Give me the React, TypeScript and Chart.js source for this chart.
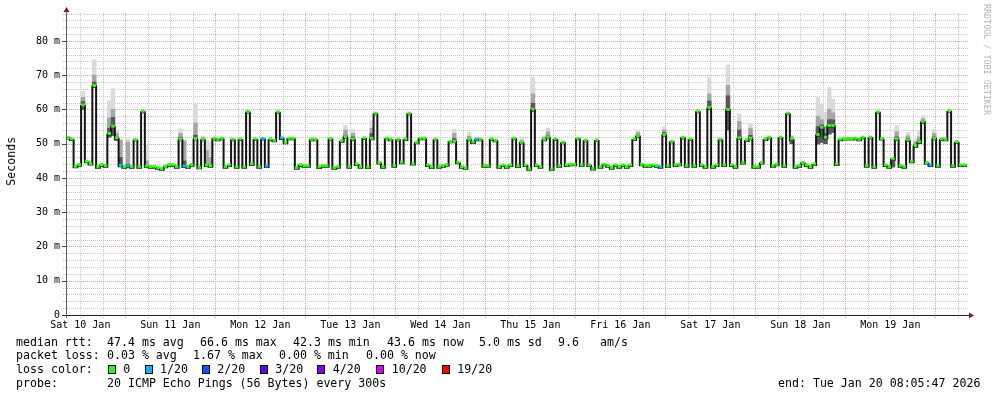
import React, { useEffect, useRef } from "react";
import Chart from "chart.js/auto";

// ---- axis ranges (hours since Sat 10 Jan 00:00) ----
const X_MIN = 8.45;
const X_MAX = 248.45;
const FIRST_BUCKET_HOUR = 8.21;
const Y_MIN = 0;
const Y_MAX = 88.15;

const dayLabels = ["Sat 10 Jan", "Sun 11 Jan", "Mon 12 Jan", "Tue 13 Jan", "Wed 14 Jan", "Thu 15 Jan", "Fri 16 Jan", "Sat 17 Jan", "Sun 18 Jan", "Mon 19 Jan"];
const dayLabelHours = [12, 36, 60, 84, 108, 132, 156, 180, 204, 228];
const yTickValues = [0, 10, 20, 30, 40, 50, 60, 70, 80];
const Y_MINOR_STEP = 2;
const Y_MAJOR_STEP = 10;
const X_MINOR_STEP_H = 6;
const X_MAJOR_STEP_H = 24;

// ---- hourly median RTT (ms) ----
const medianRtt = [
  51.5, 51.1, 43.1, 43.6, 61.0, 44.6, 43.9, 66.7, 43.0, 43.6,
  43.3, 52.7, 54.8, 51.4, 43.4, 43.0, 43.2, 43.0, 50.9, 43.0,
  59.2, 43.2, 43.0, 43.0, 42.7, 42.4, 43.1, 43.6, 43.6, 43.0,
  51.0, 43.2, 43.0, 43.6, 51.2, 42.8, 51.0, 43.5, 43.3, 51.3,
  51.0, 51.3, 43.0, 43.5, 51.0, 43.0, 51.1, 43.0, 59.1, 43.8,
  51.1, 43.0, 51.2, 43.2, 51.1, 50.7, 59.0, 51.4, 50.1, 51.3,
  51.3, 42.7, 43.6, 43.3, 43.3, 51.0, 51.0, 42.9, 43.3, 43.3,
  51.2, 42.7, 43.0, 50.6, 51.8, 43.0, 51.1, 43.8, 43.0, 51.4,
  42.9, 51.3, 58.6, 44.2, 43.0, 51.3, 51.0, 43.3, 51.0, 44.3,
  51.1, 58.6, 43.9, 50.1, 51.3, 51.3, 43.5, 42.9, 51.0, 43.0,
  43.3, 43.6, 50.4, 50.4, 44.3, 43.0, 42.7, 51.0, 50.2, 51.0,
  51.0, 43.3, 43.3, 51.1, 50.7, 43.0, 43.5, 43.0, 43.5, 51.3,
  43.2, 50.1, 43.5, 42.4, 59.8, 43.5, 43.0, 51.0, 51.6, 42.4,
  51.1, 43.3, 50.1, 43.5, 43.7, 43.7, 51.3, 43.5, 50.7, 43.5,
  42.5, 50.8, 43.0, 43.7, 43.3, 42.7, 43.5, 43.0, 43.5, 43.0,
  43.5, 51.1, 52.0, 43.7, 43.3, 43.3, 43.5, 43.3, 43.0, 52.4,
  43.2, 50.4, 43.5, 43.7, 51.6, 43.3, 51.1, 43.3, 59.2, 43.5,
  43.0, 60.3, 43.0, 43.5, 51.0, 43.5, 59.7, 43.5, 43.0, 51.4,
  44.2, 50.8, 51.3, 43.0, 43.0, 44.2, 51.1, 51.6, 43.3, 43.7,
  51.6, 43.3, 58.6, 51.1, 43.0, 43.3, 44.2, 43.5, 43.0, 43.8,
  52.4, 54.5, 51.6, 55.0, 55.0, 43.8, 51.0, 51.2, 51.2, 51.2,
  51.3, 51.0, 51.6, 43.3, 51.6, 43.0, 59.0, 51.2, 43.5, 43.0,
  45.3, 51.1, 43.3, 43.0, 50.8, 44.6, 49.2, 50.3, 56.2, 44.2,
  43.5, 51.3, 43.3, 51.1, 51.0, 59.3, 43.3, 50.3, 43.5, 43.5,
  43.6,
];

// ---- packet loss (count out of 20) per hour, sparse ----
const lossIndex = [14, 16, 31, 52, 53, 57, 109, 158, 230];
const lossCount = [1, 1, 1, 1, 1, 1, 1, 1, 1];

// ---- smoke (ping spread) per hour, sparse ----
const smokeIndex = [4, 7, 11, 12, 13, 14, 16, 21, 30, 31, 34, 36, 37, 38, 74, 76, 81, 103, 107, 109, 121, 124, 127, 128, 152, 159, 171, 176, 179, 182, 193, 200, 201, 202, 203, 204, 220, 221, 224, 226, 227, 228, 231];
const smokeBottom = [60.0, 66.5, 51.9, 52.4, 50.9, 43.3, 43.2, 43.0, 51.0, 43.2, 51.2, 51.0, 43.5, 43.3, 51.8, 51.1, 51.3, 50.4, 51.0, 51.0, 50.1, 59.5, 51.0, 51.6, 52.0, 52.4, 60.0, 54.0, 51.4, 51.3, 50.0, 49.9, 50.4, 50.0, 52.8, 53.3, 43.2, 51.1, 50.8, 49.0, 50.0, 56.0, 51.3];
const smokeCore = [62.3, 68.0, 54.5, 57.7, 52.0, 46.0, 44.0, 43.5, 51.8, 45.0, 52.5, 51.3, 44.0, 43.8, 52.5, 52.0, 53.0, 51.5, 51.3, 51.2, 50.4, 61.8, 51.3, 52.3, 52.5, 53.3, 62.5, 64.0, 54.0, 52.5, 51.3, 55.0, 55.5, 53.0, 57.0, 57.0, 45.3, 52.0, 51.5, 49.8, 51.0, 56.7, 52.0];
const smokeMid = [63.5, 70.0, 57.5, 60.0, 53.0, 51.0, 50.5, 45.0, 53.0, 50.8, 56.0, 51.8, 48.0, 46.0, 54.0, 53.0, 54.5, 53.0, 52.2, 51.6, 51.0, 64.5, 51.8, 53.5, 53.3, 54.0, 64.5, 67.0, 56.5, 54.5, 52.0, 58.0, 57.0, 55.0, 60.0, 59.0, 45.3, 53.5, 52.3, 50.5, 52.0, 57.3, 53.0];
const smokeTop = [65.3, 74.5, 62.5, 66.1, 54.0, 51.4, 51.4, 49.5, 54.3, 51.1, 61.6, 52.3, 50.9, 50.5, 55.3, 54.1, 56.7, 54.3, 53.3, 52.0, 51.9, 69.3, 52.3, 54.6, 54.0, 55.0, 69.3, 73.0, 58.7, 55.9, 52.4, 63.5, 61.6, 59.2, 66.4, 63.0, 45.3, 55.3, 53.3, 51.4, 53.8, 58.2, 54.0];

// ---- loss colour legend ----
const lossLegendLabels = ["0", "1/20", "2/20", "3/20", "4/20", "10/20", "19/20"];
const lossLegendThresholds = [0, 1, 2, 3, 4, 10, 19];
const lossLegendColors = ["#26ff00", "#00b8ff", "#0059ff", "#5e00ff", "#7e00ff", "#dd00ff", "#ff0000"];

const MONO = '"DejaVu Sans Mono", monospace';
const MINOR_GRID = "#c8c8c8";
const MAJOR_GRID = "#e4a0a0";
const ARROW = "#8b1a1a";

function lossColorFor(count: number): string {
  let c = lossLegendColors[0];
  for (let j = 0; j < lossLegendThresholds.length; j++) {
    if (count >= lossLegendThresholds[j]) c = lossLegendColors[j];
  }
  return c;
}

const gridPlugin = {
  id: "rrdGrid",
  beforeDatasetsDraw(chart: any) {
    const { ctx, chartArea: a } = chart;
    const x = chart.scales.x;
    const y = chart.scales.y;
    ctx.save();
    ctx.lineWidth = 1;
    ctx.setLineDash([1, 1]);
    const drawH = (major: boolean) => {
      for (let v = Y_MINOR_STEP; v <= Y_MAX; v += Y_MINOR_STEP) {
        const isMajor = v % Y_MAJOR_STEP === 0;
        if (isMajor !== major) continue;
        const py = Math.round(y.getPixelForValue(v)) + 0.5;
        ctx.strokeStyle = major ? MAJOR_GRID : MINOR_GRID;
        ctx.beginPath();
        ctx.moveTo(a.left - 4, py);
        ctx.lineTo(a.right + 2, py);
        ctx.stroke();
      }
    };
    const drawV = (major: boolean) => {
      const start = Math.ceil(X_MIN / X_MINOR_STEP_H) * X_MINOR_STEP_H;
      for (let h = start; h <= X_MAX; h += X_MINOR_STEP_H) {
        const isMajor = h % X_MAJOR_STEP_H === 0;
        if (isMajor !== major) continue;
        const px = Math.round(x.getPixelForValue(h)) + 0.5;
        ctx.strokeStyle = major ? MAJOR_GRID : MINOR_GRID;
        ctx.beginPath();
        ctx.moveTo(px, a.top);
        ctx.lineTo(px, a.bottom + 3);
        ctx.stroke();
      }
    };
    drawH(false);
    drawV(false);
    drawH(true);
    drawV(true);
    ctx.restore();
  },
};

const GREEN_DATASET_INDEX = 4;
const offsetPlugin = {
  id: "greenOffset",
  beforeDatasetDraw(chart: any, args: any) {
    if (args.index === GREEN_DATASET_INDEX) {
      chart.ctx.save();
      chart.ctx.translate(0, -1);
    }
  },
  afterDatasetDraw(chart: any, args: any) {
    if (args.index === GREEN_DATASET_INDEX) chart.ctx.restore();
  },
};

const axisPlugin = {
  id: "rrdAxes",
  afterDatasetsDraw(chart: any) {
    const { ctx, chartArea: a } = chart;
    const y = chart.scales.y;
    ctx.save();
    ctx.setLineDash([]);
    ctx.lineWidth = 1;
    ctx.strokeStyle = "#404040";
    for (const v of yTickValues) {
      const py = Math.round(y.getPixelForValue(v)) + 0.5;
      ctx.beginPath();
      ctx.moveTo(a.left - 5, py);
      ctx.lineTo(a.left, py);
      ctx.stroke();
    }
    const by = Math.round(a.bottom) + 0.5;
    ctx.strokeStyle = "#202020";
    ctx.beginPath();
    ctx.moveTo(a.left - 4, by);
    ctx.lineTo(a.right + 3, by);
    ctx.stroke();
    const lx = Math.round(a.left) - 0.5;
    ctx.strokeStyle = "#606060";
    ctx.beginPath();
    ctx.moveTo(lx, a.bottom + 3);
    ctx.lineTo(lx, a.top - 2);
    ctx.stroke();
    ctx.fillStyle = ARROW;
    ctx.beginPath();
    ctx.moveTo(a.right + 2, by - 3);
    ctx.lineTo(a.right + 7, by);
    ctx.lineTo(a.right + 2, by + 3);
    ctx.closePath();
    ctx.fill();
    ctx.beginPath();
    ctx.moveTo(lx - 3, a.top - 1);
    ctx.lineTo(lx, a.top - 6);
    ctx.lineTo(lx + 3, a.top - 1);
    ctx.closePath();
    ctx.fill();
    ctx.restore();
  },
};

function smokeData(upper: number[]) {
  return smokeIndex.map((i, n) => ({ x: FIRST_BUCKET_HOUR + i + 0.5, y: [smokeBottom[n], upper[n]] }));
}

export default function App() {
  const ref = useRef<HTMLCanvasElement>(null);

  useEffect(() => {
    const canvas = ref.current;
    if (!canvas) return;
    const lossByIndex: Record<number, number> = {};
    lossIndex.forEach((i, n) => (lossByIndex[i] = lossCount[n]));

    const lineData = medianRtt.map((v, i) => ({ x: FIRST_BUCKET_HOUR + i, y: v }));
    lineData.push({ x: FIRST_BUCKET_HOUR + medianRtt.length, y: medianRtt[medianRtt.length - 1] });
    const greenData = medianRtt.map((v, i) => ({ x: FIRST_BUCKET_HOUR + i + 0.5, y: v }));
    const greenColors = medianRtt.map((_, i) => lossColorFor(lossByIndex[i] || 0));

    const barCommon = {
      type: "bar" as const,
      grouped: false,
      barPercentage: 1,
      categoryPercentage: 1,
      borderWidth: 0,
      borderSkipped: false,
    };

    const chart = new Chart(canvas, {
      type: "line",
      data: {
        datasets: [
          { ...barCommon, label: "smoke outer", data: smokeData(smokeTop), backgroundColor: "#dadada", order: 5 } as any,
          { ...barCommon, label: "smoke mid", data: smokeData(smokeMid), backgroundColor: "#a6a6a6", order: 4 } as any,
          { ...barCommon, label: "smoke core", data: smokeData(smokeCore), backgroundColor: "#585858", order: 3 } as any,
          {
            type: "line",
            label: "median",
            data: lineData,
            stepped: "before",
            borderColor: "#141414",
            borderWidth: 2,
            pointRadius: 0,
            fill: false,
            order: 2,
          } as any,
          {
            type: "line",
            label: "loss",
            data: greenData,
            showLine: false,
            pointStyle: "line",
            pointRadius: 1.7,
            pointHoverRadius: 1.7,
            pointBorderWidth: 3,
            pointBorderColor: greenColors,
            pointBackgroundColor: greenColors,
            order: 1,
          } as any,
        ],
      },
      options: {
        responsive: false,
        maintainAspectRatio: false,
        animation: false,
        devicePixelRatio: 1,
        events: [],
        layout: { padding: { left: 0, right: 30, top: 12, bottom: 0 } },
        plugins: { legend: { display: false }, tooltip: { enabled: false }, title: { display: false } },
        scales: {
          x: {
            type: "linear",
            min: X_MIN,
            max: X_MAX,
            offset: false,
            grid: { display: false, drawTicks: false },
            border: { display: false },
            afterFit(s: any) {
              s.height = 82;
            },
            afterBuildTicks(s: any) {
              s.ticks = dayLabelHours.map((v) => ({ value: v }));
            },
            ticks: {
              autoSkip: false,
              maxRotation: 0,
              minRotation: 0,
              padding: 4,
              color: "#000",
              font: { family: MONO, size: 10 },
              callback: (_v: any, idx: number) => dayLabels[idx],
            },
          },
          y: {
            type: "linear",
            min: Y_MIN,
            max: Y_MAX,
            grid: { display: false, drawTicks: false },
            border: { display: false },
            afterFit(s: any) {
              s.width = 67;
            },
            afterBuildTicks(s: any) {
              s.ticks = yTickValues.map((v) => ({ value: v }));
            },
            ticks: {
              padding: 7,
              color: "#000",
              font: { family: MONO, size: 10 },
              callback: (v: any) => (Number(v) === 0 ? "0" : `${v} m`),
            },
          },
        },
      } as any,
      plugins: [gridPlugin, offsetPlugin, axisPlugin],
    });
    return () => chart.destroy();
  }, []);

  const txt = (left: number, top: number, content: string, extra: any = {}) => (
    <span
      style={{
        position: "absolute",
        left,
        top,
        font: `11.6px ${MONO}`,
        lineHeight: "14px",
        whiteSpace: "pre",
        color: "#000",
        ...extra,
      }}
    >
      {content}
    </span>
  );

  const swatchX = [107.5, 145, 202, 259.5, 316.5, 376, 442];
  const swatchLabelX = [123.3, 160, 217.3, 275.3, 332.7, 391.7, 457.3];

  return (
    <div style={{ position: "absolute", left: 0, top: 0, width: 997, height: 397, background: "#fff", overflow: "hidden" }}>
      <canvas ref={ref} width={997} height={397} style={{ position: "absolute", left: 0, top: 0, width: 997, height: 397 }} />
      <div
        style={{
          position: "absolute",
          left: 4,
          top: 137,
          writingMode: "vertical-rl",
          transform: "rotate(180deg)",
          font: `11.6px ${MONO}`,
          lineHeight: "14px",
          color: "#000",
        }}
      >
        Seconds
      </div>
      <div
        style={{
          position: "absolute",
          left: 982,
          top: 4,
          writingMode: "vertical-rl",
          font: `8.4px ${MONO}`,
          lineHeight: "10px",
          color: "#b4b4b4",
          whiteSpace: "pre",
        }}
      >
        RRDTOOL / TOBI OETIKER
      </div>

      {txt(16, 335, "median rtt:")}
      {txt(107, 335, "47.4 ms avg")}
      {txt(200, 335, "66.6 ms max")}
      {txt(293, 335, "42.3 ms min")}
      {txt(387, 335, "43.6 ms now")}
      {txt(479, 335, "5.0 ms sd")}
      {txt(558, 335, "9.6")}
      {txt(600, 335, "am/s")}

      {txt(16, 348, "packet loss:")}
      {txt(107, 348, "0.03 % avg")}
      {txt(193, 348, "1.67 % max")}
      {txt(279, 348, "0.00 % min")}
      {txt(366, 348, "0.00 % now")}

      {txt(16, 362, "loss color:")}
      {lossLegendLabels.map((lab, j) => (
        <React.Fragment key={lab}>
          <span
            style={{
              position: "absolute",
              left: swatchX[j],
              top: 364.5,
              width: 8,
              height: 9,
              boxSizing: "border-box",
              border: "1px solid #000",
              background: lossLegendColors[j],
            }}
          />
          {txt(swatchLabelX[j], 362, lab)}
        </React.Fragment>
      ))}

      {txt(16, 376, "probe:")}
      {txt(107, 376, "20 ICMP Echo Pings (56 Bytes) every 300s")}
      {txt(778, 376, "end: Tue Jan 20 08:05:47 2026")}
    </div>
  );
}
